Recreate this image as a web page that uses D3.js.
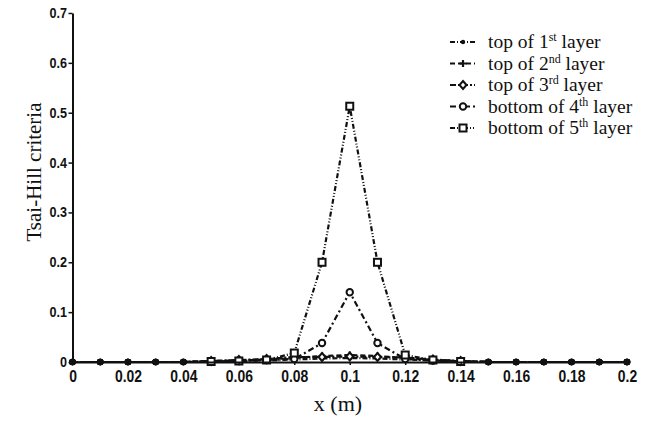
<!DOCTYPE html>
<html>
<head>
<meta charset="utf-8">
<script src="https://cdn.jsdelivr.net/npm/d3@7"></script>
<style>
  body { margin: 0; background: #fff; }
  .tick text { font-family: "Liberation Sans", Arial, sans-serif; font-weight: bold; fill: #111; }
</style>
</head>
<body>
<svg></svg>
<script>
const svgWidth = 651
const svgHeight = 436
const margins = { top: 13, bottom: 74, left: 72.5, right: 24 }
const plotWidth = svgWidth - margins.left - margins.right
const plotHeight = svgHeight - margins.top - margins.bottom

// data
const xValues = [0, 0.01, 0.02, 0.03, 0.04, 0.05, 0.06, 0.07, 0.08, 0.09, 0.1, 0.11, 0.12, 0.13, 0.14, 0.15, 0.16, 0.17, 0.18, 0.19, 0.2]
const top1 = [0, 0, 0, 0, 0, 0.001, 0.002, 0.003, 0.005, 0.007, 0.008, 0.007, 0.005, 0.003, 0.001, 0, 0, 0, 0, 0, 0]
const top2 = [0, 0, 0, 0, 0, 0.002, 0.003, 0.005, 0.008, 0.012, 0.014, 0.012, 0.008, 0.004, 0.002, 0, 0, 0, 0, 0, 0]
const top3 = [0, 0, 0, 0, 0, 0.002, 0.004, 0.006, 0.01, 0.01, 0.011, 0.01, 0.009, 0.005, 0.002, 0, 0, 0, 0, 0, 0]
const bottom4 = [0, 0, 0, 0, 0, 0.001, 0.002, 0.004, 0.006, 0.038, 0.14, 0.038, 0.006, 0.003, 0.001, 0, 0, 0, 0, 0, 0]
const bottom5 = [0, 0, 0, 0, 0, 0.001, 0.002, 0.004, 0.018, 0.2, 0.513, 0.2, 0.014, 0.004, 0.001, 0, 0, 0, 0, 0, 0]
const seriesNames = [["top of 1", "st", " layer"], ["top of 2", "nd", " layer"], ["top of 3", "rd", " layer"], ["bottom of 4", "th", " layer"], ["bottom of 5", "th", " layer"]]
const xTicks = [0, 0.02, 0.04, 0.06, 0.08, 0.1, 0.12, 0.14, 0.16, 0.18, 0.2]
const yTicks = [0, 0.1, 0.2, 0.3, 0.4, 0.5, 0.6, 0.7]

const allSeries = [top1, top2, top3, bottom4, bottom5]
const markers = ["dot", "plus", "diamond", "circle", "square"]
const dashes = ["5,2,1,2", "5,3", "6,2,2,2", "6,3,2,3", "5,2,1,2,1,2"]

const svg = d3.select("svg")
    .attr("width", svgWidth)
    .attr("height", svgHeight)

const xScale = d3.scaleLinear().domain([0, 0.2]).range([0, plotWidth])
const yScale = d3.scaleLinear().domain([0, 0.7]).range([plotHeight, 0])

const g = svg.append("g").attr("transform", `translate(${margins.left},${margins.top})`)

const fmt = (d) => String(+d.toFixed(2))

// lines
const line = d3.line().x((d, i) => xScale(xValues[i])).y((d) => yScale(d))
allSeries.forEach((s, k) => {
    g.append("path")
        .datum(s)
        .attr("fill", "none")
        .attr("stroke", "#111")
        .attr("stroke-width", 2.2)
        .attr("stroke-dasharray", dashes[k])
        .attr("d", line)
})

function drawMarker(sel, type, x, y) {
    if (type === "dot") {
        sel.append("circle").attr("cx", x).attr("cy", y).attr("r", 2.2).attr("fill", "#111")
    } else if (type === "plus") {
        sel.append("path").attr("d", `M${x - 3.5},${y}H${x + 3.5}M${x},${y - 3.5}V${y + 3.5}`).attr("stroke", "#111").attr("stroke-width", 2.2)
    } else if (type === "diamond") {
        sel.append("path").attr("d", `M${x},${y - 4}L${x + 3.5},${y}L${x},${y + 4}L${x - 3.5},${y}Z`).attr("fill", "#fff").attr("stroke", "#111").attr("stroke-width", 2)
    } else if (type === "circle") {
        sel.append("circle").attr("cx", x).attr("cy", y).attr("r", 3.2).attr("fill", "#fff").attr("stroke", "#111").attr("stroke-width", 2)
    } else {
        sel.append("rect").attr("x", x - 3.5).attr("y", y - 3.5).attr("width", 7).attr("height", 7).attr("fill", "#fff").attr("stroke", "#111").attr("stroke-width", 2)
    }
}

allSeries.forEach((s, k) => {
    const mg = g.append("g")
    s.forEach((v, i) => {
        if (v === 0) {
            mg.append("circle").attr("cx", xScale(xValues[i])).attr("cy", yScale(v)).attr("r", 3.3).attr("fill", "#111")
        } else {
            drawMarker(mg, markers[k], xScale(xValues[i]), yScale(v))
        }
    })
})

// axes
const xAxis = g.append("g")
    .attr("transform", `translate(0,${plotHeight})`)
    .call(d3.axisBottom(xScale).tickValues(xTicks).tickFormat(fmt).tickSize(3).tickSizeOuter(0).tickPadding(5))
xAxis.selectAll(".tick text").attr("font-size", 17).attr("transform", "scale(0.82,1)")

const yAxis = g.append("g")
    .call(d3.axisLeft(yScale).tickValues(yTicks).tickFormat(fmt).tickSize(4).tickSizeOuter(0).tickPadding(2))
yAxis.selectAll(".tick text").attr("font-size", 14).attr("transform", "scale(0.9,1)")

;[xAxis, yAxis].forEach((a) => {
    a.select(".domain").attr("stroke", "#111").attr("stroke-width", 2)
    a.selectAll(".tick line").attr("stroke", "#111").attr("stroke-width", 1.5)
})

// axis titles
svg.append("text")
    .text("Tsai-Hill criteria")
    .attr("transform", "translate(41,172) rotate(-90)")
    .attr("text-anchor", "middle")
    .attr("font-family", "Liberation Serif, Times New Roman, serif")
    .attr("font-size", 21)
    .attr("fill", "#111")

svg.append("text")
    .text("x (m)")
    .attr("x", 338)
    .attr("y", 411)
    .attr("text-anchor", "middle")
    .attr("font-family", "Liberation Serif, Times New Roman, serif")
    .attr("font-size", 22)
    .attr("fill", "#111")

// legend
const legend = svg.append("g")
const legendY = (i) => 42 + i * 21.5
seriesNames.forEach((name, i) => {
    const y = legendY(i)
    legend.append("line")
        .attr("x1", 450).attr("x2", 475).attr("y1", y).attr("y2", y)
        .attr("stroke", "#111").attr("stroke-width", 2.2)
        .attr("stroke-dasharray", dashes[i])
    drawMarker(legend, markers[i], 463, y)
    const t = legend.append("text")
        .attr("x", 488)
        .attr("y", y + 6)
        .attr("font-family", "Liberation Serif, Times New Roman, serif")
        .attr("font-size", 19.5)
        .attr("fill", "#111")
    t.append("tspan").text(name[0])
    t.append("tspan").text(name[1]).attr("font-size", 12).attr("dy", -7)
    t.append("tspan").text(name[2]).attr("dy", 7)
})
</script>
</body>
</html>
